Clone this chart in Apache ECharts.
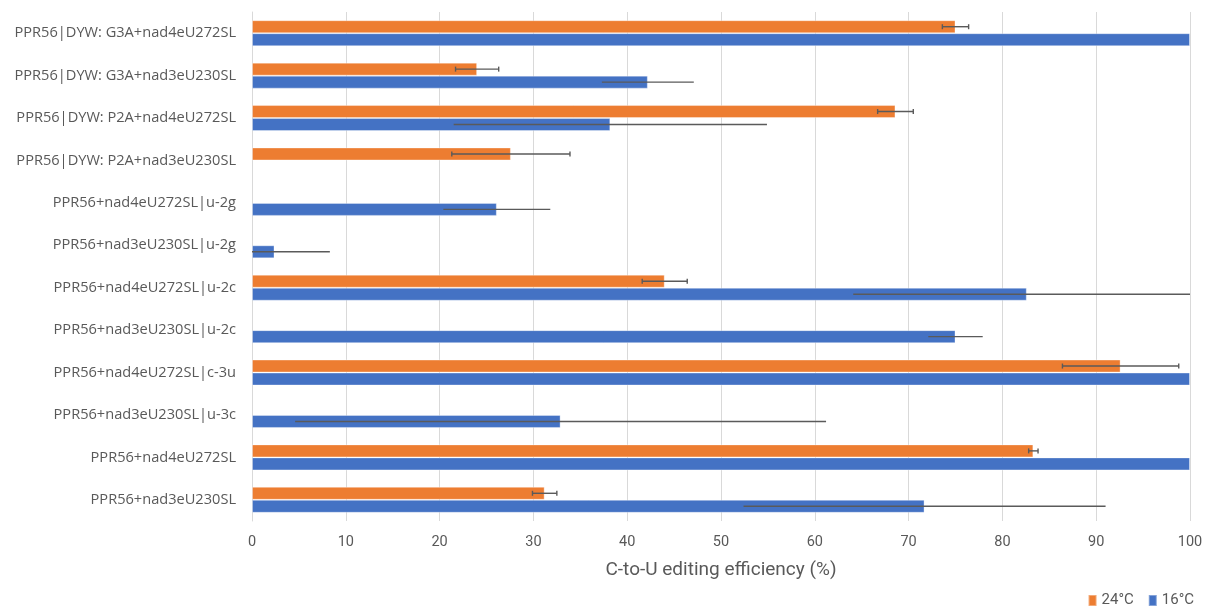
<!DOCTYPE html>
<html>
<head>
<meta charset="utf-8">
<style>
  html, body { margin: 0; padding: 0; background: #fff; }
  #chart { width: 1211px; height: 609px; }
</style>
<script src="https://cdn.jsdelivr.net/npm/echarts@6/dist/echarts.min.js"></script>
</head>
<body>
<div id="chart"></div>
<script>
// Constructs, listed top to bottom
const categories = [
  'PPR56|DYW: G3A+nad4eU272SL',
  'PPR56|DYW: G3A+nad3eU230SL',
  'PPR56|DYW: P2A+nad4eU272SL',
  'PPR56|DYW: P2A+nad3eU230SL',
  'PPR56+nad4eU272SL|u-2g',
  'PPR56+nad3eU230SL|u-2g',
  'PPR56+nad4eU272SL|u-2c',
  'PPR56+nad3eU230SL|u-2c',
  'PPR56+nad4eU272SL|c-3u',
  'PPR56+nad3eU230SL|u-3c',
  'PPR56+nad4eU272SL',
  'PPR56+nad3eU230SL'
];

// Mean C-to-U editing efficiency (%) at each temperature
const eff24 = [75.0, 24.0, 68.6, 27.6, null, null, 44.0, null, 92.6, null, 83.3, 31.2];
const eff16 = [100, 42.2, 38.2, null, 26.1, 2.4, 82.6, 75.0, 100, 32.9, 100, 71.7];

// Error (±) for each mean
const err24 = [1.4, 2.3, 1.9, 6.3, null, null, 2.4, null, 6.2, null, 0.5, 1.3];
const err16 = [null, 4.9, 16.7, null, 5.7, 5.9, 18.5, 2.9, null, 28.3, null, 19.3];

const xTicks = { min: 0, max: 100, interval: 10 };

const ORANGE = '#ED7D31';
const BLUE = '#4472C4';
const BAR_W = 13;
const NARROW = 'Liberation Sans Narrow, Roboto, sans-serif';

function errorData(means, errs) {
  const out = [];
  means.forEach((m, i) => {
    if (m != null && errs[i] != null) out.push([i, m - errs[i], m + errs[i]]);
  });
  return out;
}

function errorSeries(means, errs, offset, withCaps) {
  return {
    type: 'custom',
    clip: true,
    silent: true,
    z: 5,
    data: errorData(means, errs),
    encode: { x: [1, 2], y: 0 },
    renderItem: function (params, api) {
      const idx = api.value(0);
      const lo = api.coord([api.value(1), idx]);
      const hi = api.coord([api.value(2), idx]);
      const y = lo[1] + offset;
      const style = { stroke: '#5a5a5a', lineWidth: 1.4 };
      const children = [{
        type: 'line',
        shape: { x1: lo[0], y1: y, x2: hi[0], y2: y },
        style: style
      }];
      if (withCaps) {
        children.push({ type: 'line', shape: { x1: lo[0], y1: y - 2.5, x2: lo[0], y2: y + 2.5 }, style: style });
        children.push({ type: 'line', shape: { x1: hi[0], y1: y - 2.5, x2: hi[0], y2: y + 2.5 }, style: style });
      }
      return { type: 'group', children: children };
    }
  };
}

const chart = echarts.init(document.getElementById('chart'), null, { renderer: 'canvas' });

chart.setOption({
  animation: false,
  backgroundColor: '#ffffff',
  grid: { left: 252, right: 21, top: 12, bottom: 88, containLabel: false },
  legend: {
    right: 12,
    bottom: -4,
    itemWidth: 8,
    itemHeight: 11,
    itemGap: 14,
    icon: 'rect',
    data: ['24°C', '16°C'],
    textStyle: { color: '#595959', fontSize: 15, fontFamily: NARROW }
  },
  xAxis: {
    type: 'value',
    min: xTicks.min,
    max: xTicks.max,
    interval: xTicks.interval,
    name: 'C-to-U editing efficiency (%)',
    nameLocation: 'middle',
    nameGap: 40,
    nameTextStyle: { color: '#595959', fontSize: 19, fontFamily: NARROW },
    axisLine: { show: false },
    axisTick: { show: false },
    axisLabel: { color: '#595959', fontSize: 14.5, margin: 14, fontFamily: NARROW },
    splitLine: { show: true, lineStyle: { color: '#d9d9d9', width: 1 } }
  },
  yAxis: {
    type: 'category',
    inverse: true,
    data: categories,
    axisLine: { show: true, lineStyle: { color: '#d9d9d9', width: 1 } },
    axisTick: { show: false },
    axisLabel: { color: '#595959', fontSize: 14.6, margin: 16, fontFamily: 'Open Sans, Noto Sans, sans-serif' }
  },
  series: [
    {
      name: '24°C',
      type: 'bar',
      data: eff24,
      barWidth: BAR_W,
      barGap: '0%',
      itemStyle: { color: ORANGE, borderColor: 'rgba(255,255,255,0.35)', borderWidth: 1 }
    },
    {
      name: '16°C',
      type: 'bar',
      data: eff16,
      barWidth: BAR_W,
      barGap: '0%',
      itemStyle: { color: BLUE, borderColor: 'rgba(255,255,255,0.35)', borderWidth: 1 }
    },
    errorSeries(eff24, err24, -BAR_W / 2, true),
    errorSeries(eff16, err16, BAR_W / 2, false)
  ]
});
</script>
</body>
</html>
